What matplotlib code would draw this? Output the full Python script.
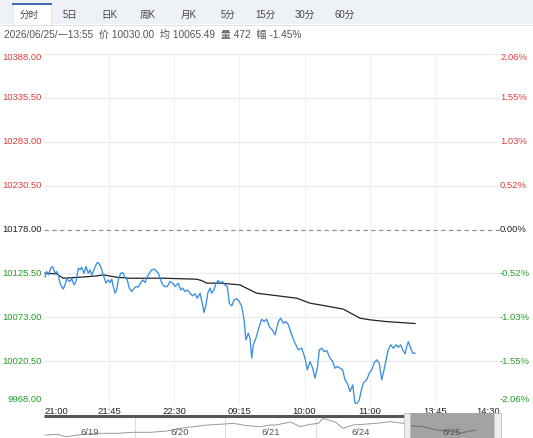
import matplotlib
matplotlib.use("Agg")
import matplotlib.pyplot as plt
from matplotlib.patches import Rectangle
from matplotlib.lines import Line2D

# ---------------- data ----------------
prev_close = 10178.0
y_levels = [10388.0, 10335.5, 10283.0, 10230.5, 10178.0, 10125.5, 10073.0, 10020.5, 9968.0]
y_labels = ["10388.00", "10335.50", "10283.00", "10230.50", "10178.00",
            "10125.50", "10073.00", "10020.50", "9968.00"]
pct_labels = ["2.06%", "1.55%", "1.03%", "0.52%", "0.00%",
              "-0.52%", "-1.03%", "-1.55%", "-2.06%"]
time_ticks = [0, 45, 90, 135, 180, 225, 270, 315]
time_labels = ["21:00", "21:45", "22:30", "09:15", "10:00", "11:00", "13:45", "14:30"]

# trading minutes since 21:00 and price
price_min = [0.7, 1.9, 3.0, 4.6, 6.0, 7.6, 8.8, 9.9, 11.1, 13.3, 14.5, 15.7, 18.0, 19.1, 20.7,
             22.1, 23.7, 24.9, 26.0, 27.6, 29.0, 30.6, 31.8, 33.0, 34.5, 36.4, 37.5, 39.2,
             40.6, 42.8, 44.4, 45.6, 46.8, 47.9, 49.0, 50.2, 51.3, 53.0, 54.4, 56.0, 57.5,
             58.9, 60.6, 61.7, 63.6, 65.1, 66.3, 68.2, 69.8, 70.9, 72.7, 74.4, 76.0, 77.4,
             79.0, 80.1, 82.0, 83.6, 85.2, 87.0, 88.9, 90.5, 92.8, 94.4, 95.8, 97.4, 99.0,
             100.9, 102.7, 104.3, 105.9, 107.8, 109.6, 110.5, 111.9, 113.1, 114.7, 115.8,
             117.4, 118.8, 120.4, 122.1, 123.4, 125.0, 126.6, 128.0, 129.7, 131.3, 133.1,
             134.9, 136.6, 138.2, 139.5, 141.1, 142.3, 143.5, 144.6, 146.4, 148.0, 150.4,
             152.0, 153.8, 155.6, 158.0, 159.6, 161.9, 163.5, 165.3, 167.2, 168.8, 171.1,
             173.4, 175.7, 178.0, 180.3, 181.9, 183.8, 185.6, 187.2, 188.8, 190.2, 191.8,
             193.4, 195.3, 197.6, 199.4, 201.0, 202.6, 204.5, 206.3, 207.9, 209.5, 211.4,
             213.3, 214.8, 216.4, 217.8, 219.0, 220.6, 222.9, 224.7, 226.4, 228.0, 229.8,
             231.6, 233.3, 234.9, 236.3, 237.8, 239.5, 241.3, 243.2, 244.7, 246.4, 247.8,
             249.4, 250.6, 251.7, 253.3, 254.7, 256.3]
price_val = [10121.3, 10127.6, 10123.7, 10131.7, 10133.6, 10125.7, 10127.6, 10123.7, 10113.8,
             10106.6, 10111.7, 10118.5, 10115.7, 10119.7, 10111.7, 10115.7, 10131.7, 10129.7,
             10132.9, 10125.7, 10133.6, 10125.7, 10129.7, 10123.7, 10129.7, 10137.7, 10138.4,
             10133.6, 10125.7, 10113.8, 10117.7, 10114.5, 10118.5, 10109.7, 10101.8, 10105.7,
             10117.7, 10125.7, 10126.4, 10120.9, 10117.7, 10107.8, 10103.7, 10106.6, 10109.7,
             10109.0, 10112.9, 10117.7, 10114.5, 10119.7, 10125.7, 10129.7, 10130.5, 10128.8,
             10125.7, 10119.7, 10111.7, 10109.7, 10109.7, 10115.7, 10113.8, 10109.7, 10113.8,
             10105.7, 10107.8, 10103.7, 10105.7, 10101.8, 10098.6, 10101.0, 10095.8, 10101.8,
             10087.8, 10078.6, 10087.8, 10101.8, 10107.8, 10101.8, 10105.7, 10113.8, 10116.9,
             10113.8, 10115.7, 10111.7, 10109.7, 10089.8, 10086.6, 10093.8, 10095.3, 10091.8,
             10085.8, 10069.9, 10045.9, 10053.9, 10048.0, 10024.1, 10040.0, 10048.0, 10057.9,
             10070.7, 10067.8, 10070.7, 10061.9, 10057.1, 10051.9, 10067.8, 10071.9, 10065.9,
             10067.8, 10063.9, 10051.9, 10042.0, 10034.0, 10036.0, 10024.1, 10010.1, 10020.0,
             10012.1, 10000.1, 10012.1, 10034.0, 10036.0, 10032.0, 10033.2, 10024.1, 10020.0,
             10012.1, 10014.0, 10012.1, 10010.1, 9998.1, 9994.2, 9984.1, 9992.1, 9970.2,
             9970.2, 9974.2, 9984.1, 9994.2, 9998.1, 10006.1, 10010.1, 10018.1, 10022.0,
             10018.1, 9998.1, 10010.1, 10022.0, 10034.0, 10040.0, 10036.0, 10040.0, 10037.2,
             10040.0, 10034.0, 10029.2, 10038.0, 10043.9, 10036.0, 10030.0, 10030.0]

avg_min = [0.7, 8.8, 13.3, 24.9, 36.4, 41.0, 50.2, 59.4, 82.4, 105.5, 108.9, 112.4, 121.6,
           135.4, 142.3, 146.9, 156.1, 174.6, 183.8, 190.7, 206.8, 218.3, 225.2, 236.7, 256.3]
avg_val = [10125.7, 10124.9, 10119.7, 10120.9, 10122.5, 10123.7, 10120.9, 10119.7, 10119.7,
           10118.5, 10116.9, 10113.8, 10113.8, 10111.7, 10105.7, 10101.8, 10099.8, 10095.8,
           10089.8, 10087.8, 10082.7, 10071.9, 10069.9, 10067.8, 10065.5]

# navigator (5 trading days)
nav_day = [0.01, 0.14, 0.25, 0.43, 0.62, 0.81, 0.98, 1.17, 1.36, 1.50, 1.65, 1.80, 1.94, 2.09,
           2.24, 2.39, 2.50, 2.56, 2.72, 2.83, 2.94, 3.03, 3.08, 3.14, 3.22, 3.30, 3.41, 3.52,
           3.67, 3.82, 3.97, 4.04, 4.19, 4.33, 4.49, 4.60, 4.66, 4.77]
nav_val = [9967, 9980, 9935, 9980, 9999, 9999, 10018, 10018, 10043, 10094, 10125, 10157,
           10170, 10189, 10144, 10125, 10157, 10157, 10214, 10125, 10170, 10189, 10284, 10252,
           10208, 10094, 10157, 10170, 10189, 10220, 10189, 10144, 10125, 10062, 10043, 9999,
           10030, 10062]
nav_dates = ["6/19", "6/20", "6/21", "6/24", "6/25"]

tabs = ["分时", "5日", "日K", "周K", "月K", "5分", "15分", "30分", "60分"]
tab_x = [29, 70, 109, 148, 189, 228, 265, 305, 345]
info_text = "2026/06/25/一13:55  价 10030.00  均 10065.49  量 472  幅 -1.45%"

# ---------------- styling ----------------
W, H = 533, 438
FAM = ["Liberation Sans", "Noto Sans CJK SC", "DejaVu Sans"]
RED = "#e23c3c"
GREEN = "#22a022"
BLUE = "#3a8fe0"
GRID = "#ebebeb"
VGRID = "#f1f1f1"

def fx(px):
    return px / W

def fy(py):
    return 1 - py / H

fig = plt.figure(figsize=(W / 100, H / 100), dpi=100)
fig.patch.set_facecolor("white")

# ---- tab bar ----
fig.patches.append(Rectangle((0, fy(24)), 1, 24 / H, transform=fig.transFigure,
                             facecolor="#eef1f6", edgecolor="none", zorder=0))
fig.lines.append(Line2D([0, 1], [fy(24.5), fy(24.5)], transform=fig.transFigure,
                        color="#dfe4ec", lw=0.8))
fig.patches.append(Rectangle((fx(13), fy(25)), 38 / W, 22 / H, transform=fig.transFigure,
                             facecolor="white", edgecolor="#dfe4ec", lw=0.6, zorder=1))
fig.lines.append(Line2D([fx(13), fx(51)], [fy(3.5), fy(3.5)], transform=fig.transFigure,
                        color="#2b5aa5", lw=1.3, zorder=2))
for lab, x in zip(tabs, tab_x):
    fig.text(fx(x), fy(15), lab, ha="center", va="center", fontsize=6.9,
             color="#444444", family=FAM, zorder=3)

fig.text(fx(4), fy(35), info_text, ha="left", va="center", fontsize=7.3,
         color="#555555", family=FAM)

# ---- main axes ----
ax = fig.add_axes([fx(44), fy(405), 456 / W, 351 / H])
ax.set_xlim(0, 315)
ax.set_ylim(y_levels[-1], y_levels[0])
for s in ax.spines.values():
    s.set_visible(False)
ax.set_xticks([])
ax.set_yticks([])

for lvl in y_levels:
    if lvl == prev_close:
        ax.axhline(lvl, color="#8a8a8a", lw=0.8, ls=(0, (4, 3)), zorder=1)
    else:
        ax.axhline(lvl, color=GRID, lw=0.8, zorder=1)
for t in time_ticks[1:-1]:
    ax.axvline(t, color=VGRID, lw=0.8, zorder=0.5)

ax.plot(avg_min, avg_val, color="#222222", lw=0.9, zorder=3)
ax.plot(price_min, price_val, color=BLUE, lw=0.95, zorder=4)

n = len(y_levels)
for i, (lvl, lab, pl) in enumerate(zip(y_levels, y_labels, pct_labels)):
    if lvl > prev_close:
        c = RED
    elif lvl < prev_close:
        c = GREEN
    else:
        c = "#222222"
    dy = -4 if i == 0 else (5 if i == n - 1 else 0)
    ax.annotate(lab, xy=(0, lvl), xycoords=("axes fraction", "data"),
                xytext=(-2, dy), textcoords="offset pixels", ha="right", va="center",
                fontsize=6.8, color=c, family=FAM)
    ax.annotate(pl, xy=(1, lvl), xycoords=("axes fraction", "data"),
                xytext=(0, dy), textcoords="offset pixels", ha="left", va="center",
                fontsize=6.8, color=c, family=FAM)

for i, (t, lab) in enumerate(zip(time_ticks, time_labels)):
    ha = "left" if i == 0 else ("right" if i == len(time_ticks) - 1 else "center")
    ax.annotate(lab, xy=(t, 0), xycoords=("data", "axes fraction"),
                xytext=(0, -6), textcoords="offset pixels", ha=ha, va="center",
                fontsize=6.8, color="#222222", family=FAM)

# ---- navigator ----
nav = fig.add_axes([fx(44), 0, 453 / W, fy(416)])
nav.set_xlim(0, 5)
nav.set_ylim(9910, 10328)
nav.axis("off")
for d in range(1, 5):
    nav.axvline(d, color="#dcdcdc", lw=0.8, zorder=1)
nav.add_patch(Rectangle((4.04, 9880), 0.93, 500, facecolor="#a3a3a3",
                        edgecolor="none", zorder=2, clip_on=False))
nav.plot(nav_day, nav_val, color="#9a9a9a", lw=0.7, zorder=3)
nav.plot(nav_day[31:], nav_val[31:], color="#6e6e6e", lw=0.7, zorder=4)
for d, lab in enumerate(nav_dates):
    nav.text(d + 0.5, 10010, lab, ha="center", va="center", fontsize=6.8,
             color="#555555", family=FAM, zorder=5)
nav.plot([0, 3.99], [10328, 10328], color="#555555", lw=2.2, zorder=5, clip_on=False,
         solid_capstyle="butt")
for hx in (3.97, 4.97):
    nav.add_patch(Rectangle((hx, 9880), 0.075, 500, facecolor="#ececec",
                            edgecolor="#bdbdbd", lw=0.6, zorder=6, clip_on=False))

fig.savefig("out.png", dpi=100)
